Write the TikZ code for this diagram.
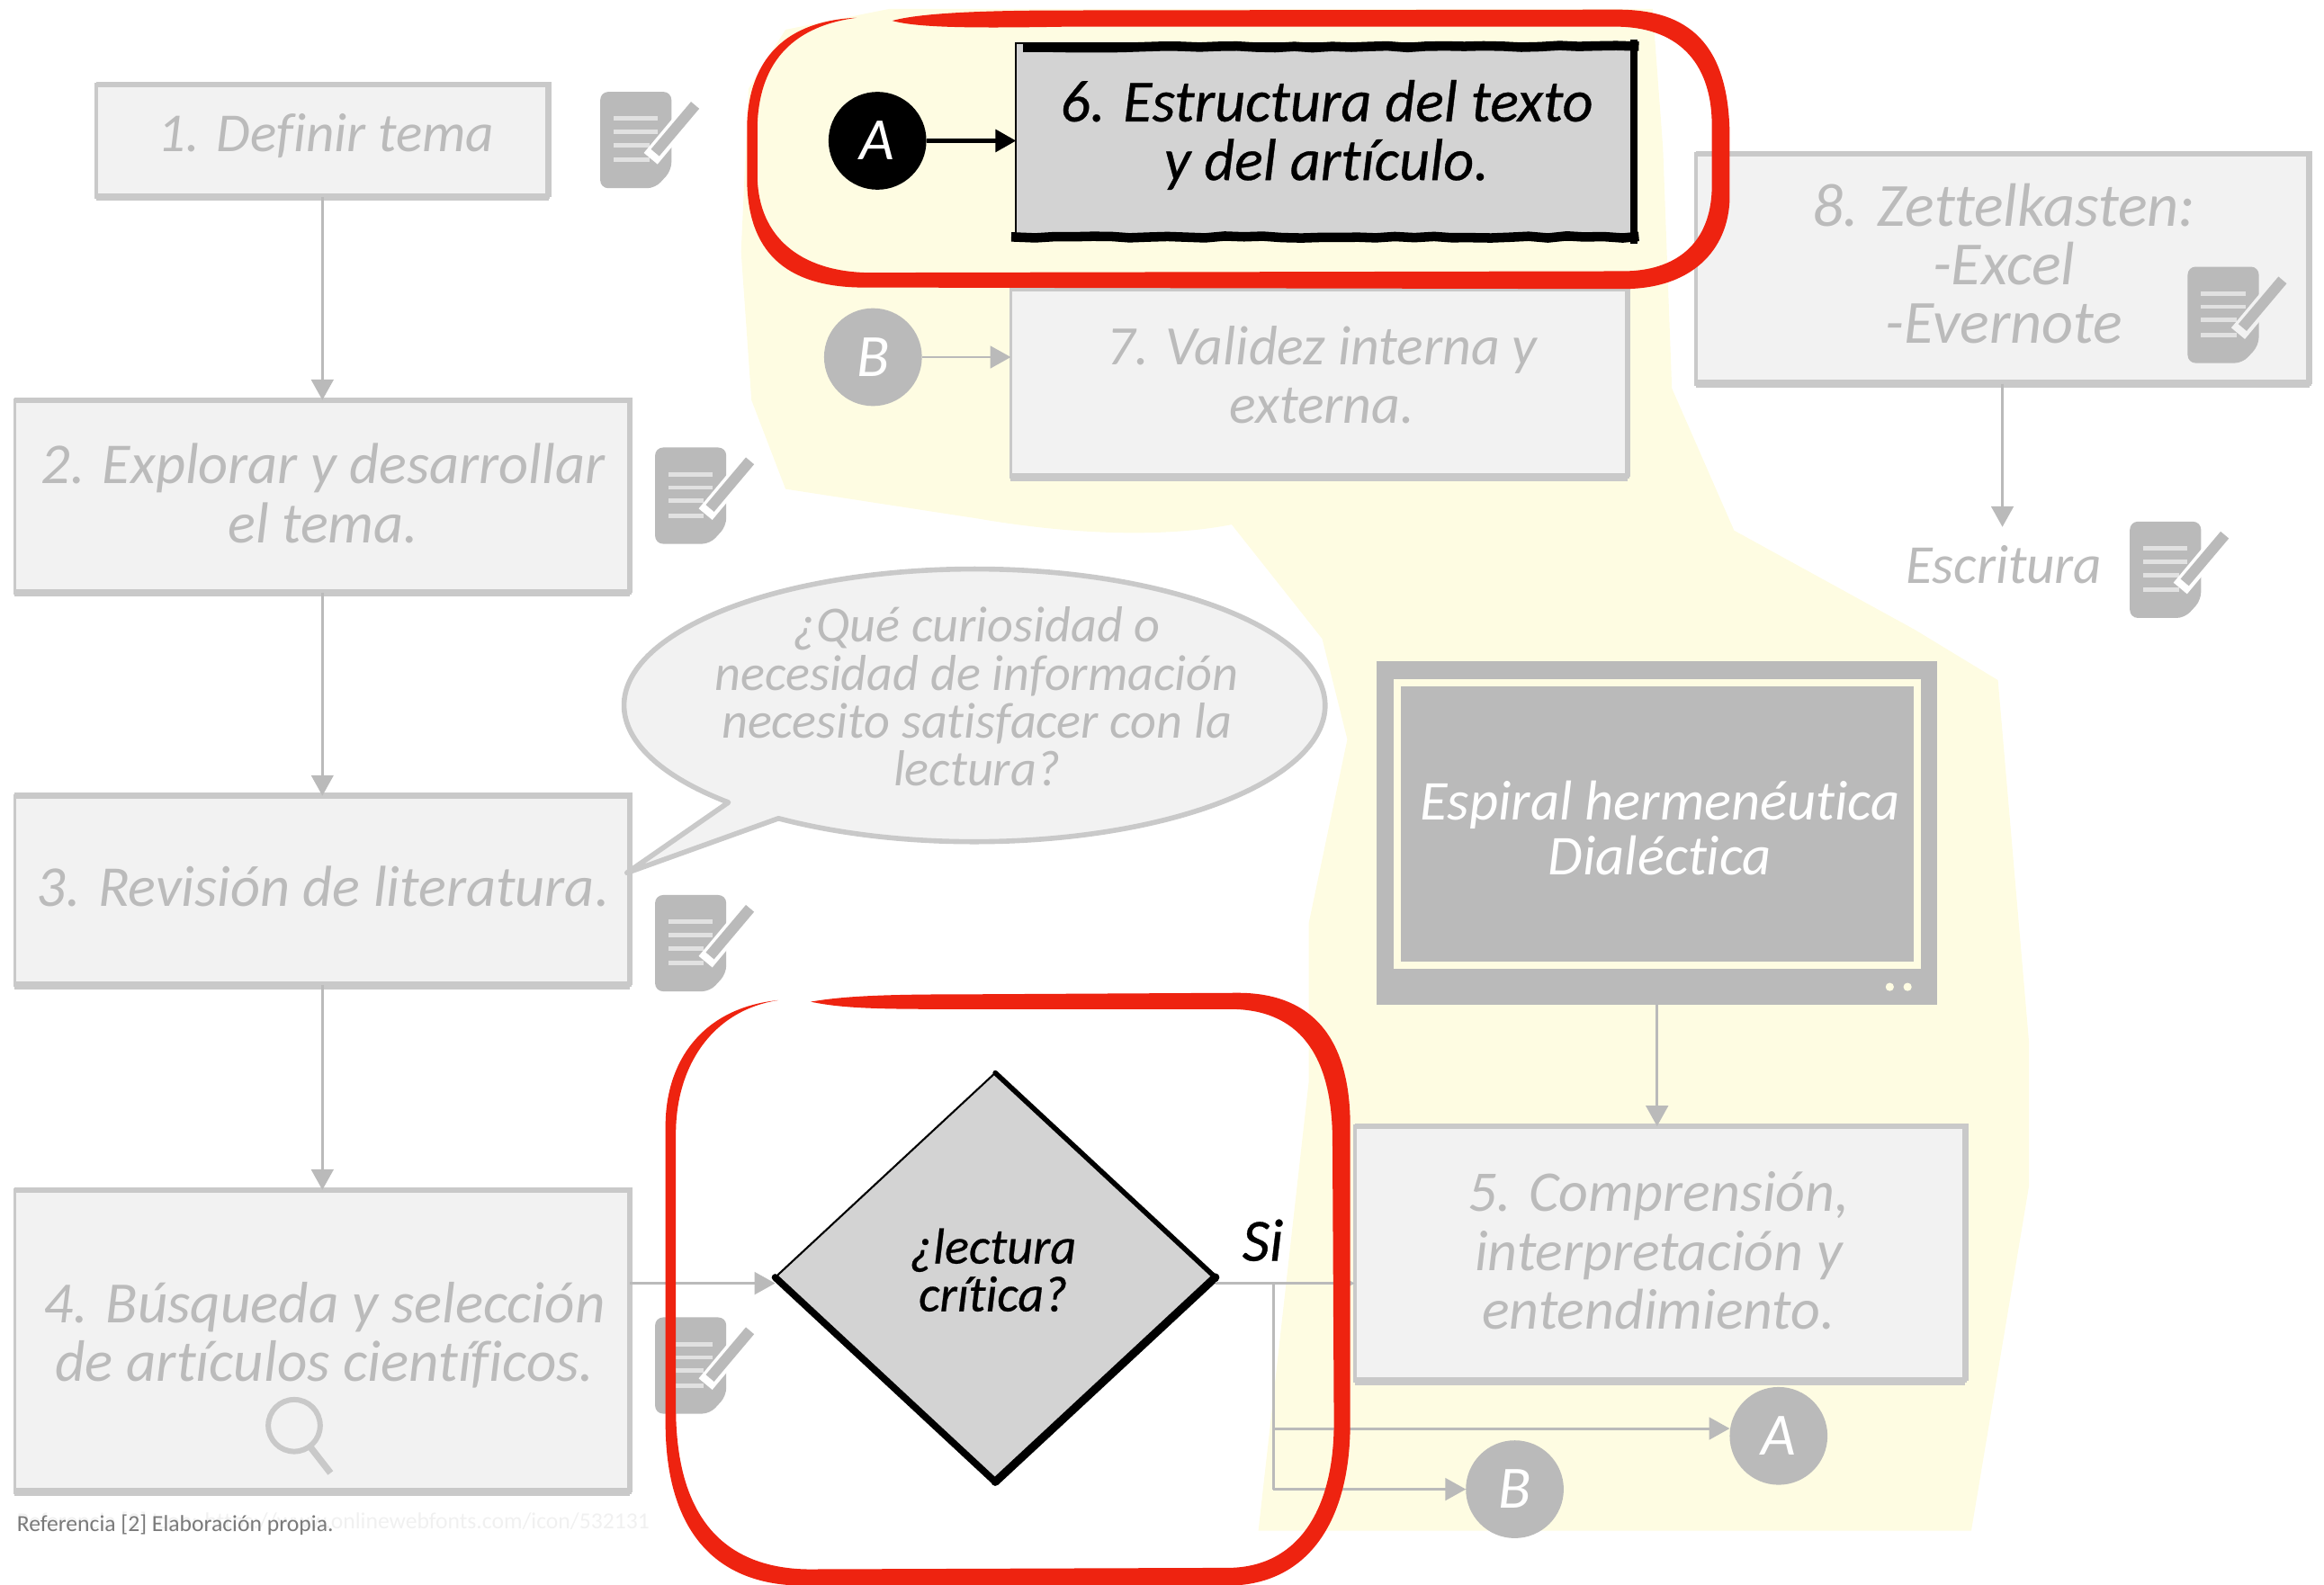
\documentclass[tikz,border=0pt]{standalone}
\usepackage{fontspec}
\setmainfont[Ligatures=NoCommon]{Carlito}
\newfontfamily\activefont[Ligatures=NoCommon,FakeBold=0.5]{Carlito}
\usetikzlibrary{arrows.meta,shapes.geometric,decorations.pathmorphing}
\definecolor{paper}{HTML}{FEFCE2}
\definecolor{ghostfill}{HTML}{F2F2F2}
\definecolor{ghostline}{HTML}{C9C9C9}
\definecolor{ghosttext}{HTML}{BBBBBB}
\definecolor{ghostdark}{HTML}{BABABA}
\definecolor{activefill}{HTML}{D3D3D3}
\definecolor{redmark}{HTML}{EE2310}
\tikzset{
  sized/.style n args={2}{minimum width=#1*0.016474cm,minimum height=#2*0.016474cm},
  gbox/.style={rectangle,draw=ghostline,fill=ghostfill,line width=1.1pt,inner sep=0pt,outer sep=0pt},
  gedge/.style={draw=ghostline,line width=#1},
  abox/.style={rectangle,draw=black,fill=activefill,line width=.7pt,inner sep=0pt,outer sep=0pt},
  aedge/.style={draw=black,line width=#1,line cap=rect},
  rough/.style={decorate,decoration={random steps,segment length=6pt,amplitude=.35pt}},
  gtext/.style={text=ghosttext,font=\itshape\fontsize{#1}{18.6}\selectfont,align=center,inner sep=0pt},
  gtext/.default=18.5,
  atext/.style={text=black,font=\activefont\itshape\fontsize{18.8}{18.6}\selectfont,align=center,inner sep=0pt},
  bubtext/.style={text=ghosttext,font=\itshape\fontsize{16}{15.1}\selectfont,align=center,inner sep=0pt},
  dtext/.style={text=black,font=\activefont\itshape\fontsize{16}{15.1}\selectfont,align=center,inner sep=0pt},
  gcirc/.style={circle,fill=ghostdark,text=white,font=\itshape\fontsize{19}{20}\selectfont,minimum size=66*0.016474cm,inner sep=0pt,outer sep=0pt},
  acirc/.style={gcirc,fill=black},
  garrow/.style={draw=ghostdark,line width=.85pt,-{Triangle[length=6.5pt,width=7pt,fill=ghostdark]}},
  gline/.style={draw=ghostdark,line width=.85pt},
  aarrow/.style={draw=black,line width=1.2pt,-{Triangle[length=6.5pt,width=7pt]}},
  redband/.style={fill=redmark,draw=none},
  pics/docicon/.style={code={
    \fill[ghostdark,rounded corners=2.5pt] (0,0)--(48,0)--(48,53)--(37,65)--(0,65)--cycle;
    \foreach \ly/\lx in {18/39,27/39,36/33,46/33}{\draw[draw=ghostfill!70!ghostdark,line width=1.4pt] (9,\ly)--(\lx,\ly);}
    \draw[draw=#1,line width=5.6pt] (34,45)--(64,9);
    \draw[draw=ghostdark,line width=3.4pt] (37,41)--(64,9);
  }},
}
\begin{document}
\begin{tikzpicture}[x=0.016474cm,y=-0.016474cm]
\useasboundingbox (0,0) rectangle (1568,1069.6);
\pgfmathsetseed{11}
% yellow background
\fill[paper] (600,6) -- (1115,6) -- (1122,100) -- (1128,262) -- (1170,358) -- (1292,425) -- (1348,459)
  -- (1369,704) -- (1369,800) -- (1330,1033) -- (849,1033) -- (883,730) -- (883,623) -- (909,499) -- (892,431) -- (831,354)
  .. controls (790,362) and (730,362) .. (660,350) -- (530,330) -- (507,270) -- (500,170) -- (505,60) -- (530,20) -- cycle;
% ghost boxes
\node[gbox,sized={305}{76}] (n1) at (217.5,95) {};
\node[gbox,sized={415}{130}] (n2) at (217.5,335) {};
\node[gbox,sized={415}{128}] (n3) at (217.5,601) {};
\node[gbox,sized={415}{204}] (n4) at (217.5,905) {};
\node[gbox,sized={416}{127}] (n7) at (890,258.5) {};
\node[gbox,sized={414}{155}] (n8) at (1351,181.5) {};
\node[gbox,sized={412}{172}] (n5) at (1120,846) {};
\foreach \n in {n1,n2,n3,n4,n7,n8,n5}{
  \draw[gedge=1.8pt] (\n.north west)--(\n.north east)--(\n.south east);
  \draw[gedge=2.5pt] (\n.south west)--(\n.south east);
}
% ghost texts
\node[gtext=17.4] (t1) at (220,92) {1. Definir tema};
\node[gtext=18.3] (t2) at (218,333) {2. Explorar y desarrollar\\[.2pt]el tema.};
\node[gtext=18.3] (t3) at (218,598) {3. Revisión de literatura.};
\node[gtext=18.5] (t4) at (219,901) {4. Búsqueda y selección\\de artículos científicos.};
\node[gtext=17.6] (t7) at (892,253) {7. Validez interna y\\externa.};
\node[gtext=19.4] (t8) at (1352,178) {8. Zettelkasten:\\-Excel\\-Evernote};
\node[gtext=18.2] (t5) at (1119,844) {5. Comprensión,\\interpretación y\\entendimiento.};
\node[gtext=17.4,sized={160}{50}] (esc) at (1352,381) {Escritura};
% magnifier
\draw[draw=ghostline,line width=1.7pt] (198.5,962) circle (17.5);
\draw[draw=ghostline,line width=2.1pt] (209,976)--(223,994);
% speech bubble
\draw[draw=ghostline,fill=ghostfill,line width=1.6pt,line join=round]
  (423,589) -- (525.26,552.27) arc[start angle=124,end angle=-225.4,x radius=236.5,y radius=92] -- cycle;
\node[bubtext] (tq) at (659,470) {¿Qué curiosidad o\\necesidad de información\\necesito satisfacer con la\\lectura?};
% screen
\node[rectangle,fill=ghostdark,sized={378}{232},inner sep=0pt,outer sep=0pt] (tv) at (1118,562) {};
\node[rectangle,draw=paper,line width=2.3pt,sized={351}{191},inner sep=0pt] (tvin) at (1118,556) {};
\node[text=white,font=\itshape\fontsize{17.8}{17.4}\selectfont,align=center,inner sep=0pt] (tvt) at (1120,559) {Espiral hermenéutica\\Dialéctica};
\fill[paper] (1275,666) circle (2.8) (1287,666) circle (2.8);
% doc icons
\pic at (405,62) {docicon=white};
\pic at (442,302) {docicon=white};
\pic at (442,604) {docicon=white};
\pic at (442,889) {docicon=white};
\pic at (1476,180) {docicon=ghostfill};
\pic at (1437,352) {docicon=white};
% circles
\node[gcirc] (cb) at (589,241) {B};
\node[gcirc] (ca) at (1200,969) {A};
\node[gcirc] (cb2) at (1022,1005) {B};
% ghost connectors
\draw[garrow] (n1.south) -- (n1.south |- n2.north);
\draw[garrow] (n2.south) -- (n2.south |- n3.north);
\draw[garrow] (n3.south) -- (n3.south |- n4.north);
\draw[garrow] (n8.south) -- (n8.south |- esc.north);
\draw[garrow] (tv.south) -- (tv.south |- n5.north);
\draw[garrow] (cb.east) -- (cb.east -| n7.west);
% active diamond
\node[diamond,fill=activefill,draw=black,line width=.6pt,aspect=1.076,sized={297}{276},inner sep=0pt,outer sep=0pt] (dd) at (671.5,862) {};
\draw[draw=black,line width=1.6pt,line cap=round] (dd.north) -- (dd.east);
\draw[draw=black,line width=2.6pt,line cap=round] (dd.east) -- (dd.south);
\draw[draw=black,line width=2.2pt,line cap=round] (dd.south) -- (dd.west);
\node[dtext] (td) at (670,857) {¿lectura\\crítica?};
\node[font=\activefont\itshape\fontsize{19}{20}\selectfont,text=black,inner sep=0pt] (si) at (852,837) {Si};
% ghost connectors around the diamond
\coordinate (j4) at (425,866);
\coordinate (j5) at (820,866);
\coordinate (jj) at (859,866);
\coordinate (ja) at (859,964);
\draw[garrow] (j4) -- (j4 -| dd.west);
\draw[garrow] (j5) -- (j5 -| n5.west);
\draw[gline] (jj) -- (jj |- cb2.west);
\draw[garrow] (ja) -- (ja -| ca.west);
\draw[garrow] (jj |- cb2.west) -- (cb2.west);
% active box 6
\node[abox,sized={417}{133}] (n6) at (894,95.5) {};
\draw[aedge=3pt,rough] (n6.north west) ++(8,3) -- ([yshift=-1pt]n6.north east);
\draw[aedge=2.4pt] (n6.north east) -- (n6.south east);
\draw[aedge=3pt,rough] (n6.south west) ++(0,-2) -- ([yshift=1pt]n6.south east);
\node[atext] (t6) at (895,91) {6. Estructura del texto\\y del artículo.};
\node[acirc] (ca2) at (592,95) {A};
\draw[aarrow] (ca2.east) -- (ca2.east -| n6.west);
% caption
\node[anchor=west,inner sep=0pt,text=black!6,font=\fontsize{7.3}{9}\selectfont] (capb) at (11,1027) {Referencia [2] Icon: https://www.onlinewebfonts.com/icon/532131};
\node[anchor=west,inner sep=0pt,text=black!52,font=\fontsize{7.3}{9}\selectfont] (cap) at (11,1029) {Referencia [2] Elaboración propia.};
% red marks
\fill[redband] (602,14) .. controls (620,9) and (660,7) .. (720,7) -- (1090,6.5)
  .. controls (1140,6) and (1166,30) .. (1167,90) -- (1167,130)
  .. controls (1168,165) and (1145,195) .. (1095,195) -- (580,194)
  .. controls (530,193) and (504,170) .. (504,120) -- (504,85)
  .. controls (505,40) and (530,14) .. (578,12)
  .. controls (532,18) and (512,45) .. (511,85) -- (511,120)
  .. controls (512,160) and (540,183) .. (585,184) -- (1095,183)
  .. controls (1130,183) and (1155,165) .. (1155,125) -- (1155,85)
  .. controls (1155,40) and (1130,18) .. (1090,18) -- (720,18)
  .. controls (660,19) and (620,19) .. (602,14) -- cycle;
\fill[redband] (547,676) .. controls (570,672) and (600,671) .. (650,671) -- (835,670)
  .. controls (885,670) and (911,700) .. (911,760) -- (911,960)
  .. controls (911,1030) and (880,1069) .. (830,1070) -- (540,1070)
  .. controls (480,1069) and (449,1030) .. (449,960) -- (449,760)
  .. controls (449,715) and (475,680) .. (525,675)
  .. controls (480,682) and (456,720) .. (456,765) -- (456,950)
  .. controls (456,1020) and (485,1058) .. (545,1059) -- (830,1058)
  .. controls (875,1057) and (900,1020) .. (900,960) -- (899,770)
  .. controls (899,710) and (875,681) .. (830,681) -- (650,681)
  .. controls (600,681) and (570,681) .. (547,676) -- cycle;
\end{tikzpicture}
\end{document}
